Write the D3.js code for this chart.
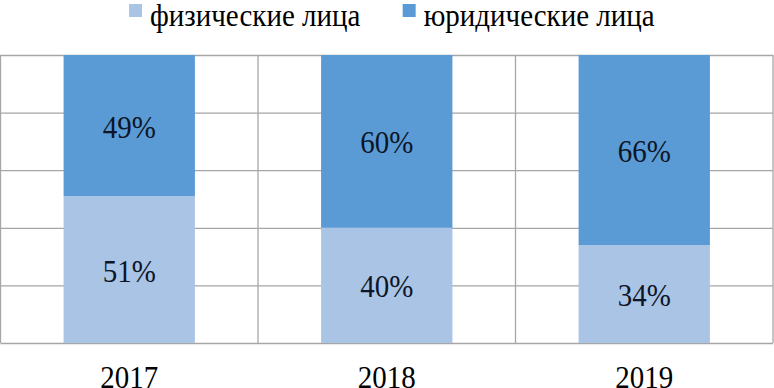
<!DOCTYPE html>
<html>
<head>
<meta charset="utf-8">
<script src="https://cdn.jsdelivr.net/npm/d3@7"></script>
<style>
  body { margin: 0; background: #fff; }
</style>
</head>
<body>
<script>
// data
var years = ["2017", "2018", "2019"];
var seriesNames = ["физические лица", "юридические лица"];
var individuals = [51, 40, 34];
var legalEntities = [49, 60, 66];
var yTicks = [0, 20, 40, 60, 80, 100];

var colors = ["#aac4e6", "#5b9bd5"];
var serif = "'Liberation Serif', 'Times New Roman', serif";
var stretch = 1.12; // the source picture is a bit taller than wide

var width = 774;
var height = 388;
var plot = { left: 0.5, right: 773, top: 55, bottom: 343 };

var svg = d3.select("body")
  .append("svg")
  .attr("width", width)
  .attr("height", height);

// scales
var xScale = d3.scaleBand()
  .domain(years)
  .range([plot.left, plot.right])
  .paddingInner(0.49)
  .paddingOuter(0.245);

var yScale = d3.scaleLinear()
  .domain([0, 100])
  .range([plot.bottom, plot.top]);

// horizontal gridlines
svg.append("g")
  .attr("transform", "translate(" + plot.left + ",0)")
  .call(d3.axisLeft(yScale).tickValues(yTicks).tickSize(-(plot.right - plot.left)).tickFormat(""))
  .call(function(g) {
    g.select(".domain").remove();
    g.selectAll("line").attr("stroke", "#a6a6a6").attr("stroke-width", 1.3);
  });

// vertical lines between categories
var step = xScale.step();
var bounds = years.map(function(d, i) { return plot.left + i * step; }).concat([plot.right]);
svg.selectAll(".vline")
  .data(bounds)
  .enter()
  .append("line")
  .attr("class", "vline")
  .attr("x1", function(d) { return d; })
  .attr("x2", function(d) { return d; })
  .attr("y1", plot.top)
  .attr("y2", plot.bottom)
  .attr("stroke", "#a6a6a6")
  .attr("stroke-width", 1.3);

// stacked bars
var rows = years.map(function(y, i) {
  return { year: y, a: individuals[i], b: legalEntities[i] };
});
var stack = d3.stack().keys(["a", "b"])(rows);

var layers = svg.selectAll(".layer")
  .data(stack)
  .enter()
  .append("g")
  .attr("class", "layer")
  .attr("fill", function(d, i) { return colors[i]; });

layers.selectAll("rect")
  .data(function(d) { return d; })
  .enter()
  .append("rect")
  .attr("x", function(d) { return xScale(d.data.year); })
  .attr("width", xScale.bandwidth())
  .attr("y", function(d) { return yScale(d[1]); })
  .attr("height", function(d) { return yScale(d[0]) - yScale(d[1]); });

// value labels
layers.selectAll("text")
  .data(function(d) { return d; })
  .enter()
  .append("text")
  .attr("transform", function(d) {
    var x = xScale(d.data.year) + xScale.bandwidth() / 2;
    var y = yScale((d[0] + d[1]) / 2) + 12;
    return "translate(" + [x, y] + ") scale(1," + stretch + ")";
  })
  .attr("text-anchor", "middle")
  .attr("fill", "#0d1526")
  .attr("font-size", 29)
  .style("font-family", serif)
  .text(function(d) { return (d[1] - d[0]) + "%"; });

// x axis labels
svg.append("g")
  .attr("transform", "translate(0," + plot.bottom + ")")
  .call(d3.axisBottom(xScale).tickSize(0).tickPadding(0))
  .call(function(g) {
    g.select(".domain").remove();
    g.selectAll("text")
      .attr("dy", 0)
      .attr("y", 0)
      .attr("transform", "translate(0,45) scale(1," + stretch + ")")
      .attr("font-size", 29)
      .attr("fill", "#000")
      .style("font-family", serif);
  });

// legend
var legend = svg.append("g").attr("class", "legend");
var items = legend.selectAll("g")
  .data(seriesNames)
  .enter()
  .append("g");

items.append("rect")
  .attr("width", 13)
  .attr("height", 13)
  .attr("y", 4)
  .attr("fill", function(d, i) { return colors[i]; });

items.append("text")
  .attr("transform", "translate(21,26) scale(1," + stretch + ")")
  .attr("font-size", 29)
  .attr("fill", "#000")
  .style("font-family", serif)
  .text(function(d) { return d; });

var gap = 42;
var offset = 0;
var positions = [];
items.each(function() {
  positions.push(offset);
  offset += this.getBBox().width + gap;
});
var total = offset - gap;
items.attr("transform", function(d, i) { return "translate(" + positions[i] + ",0)"; });
legend.attr("transform", "translate(" + (width / 2 + 5 - total / 2) + ",0)");
</script>
</body>
</html>
